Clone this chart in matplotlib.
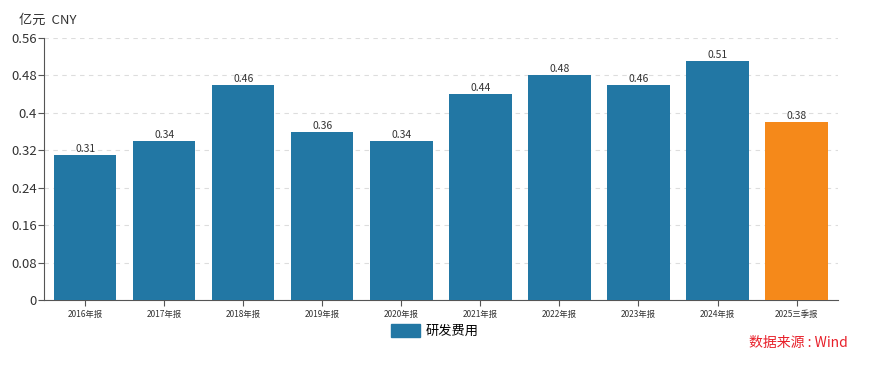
import matplotlib
matplotlib.use('Agg')
import matplotlib.pyplot as plt
from matplotlib.patches import Patch

plt.rcParams['font.family'] = ['Noto Sans CJK SC', 'DejaVu Sans']

categories = ['2016年报', '2017年报', '2018年报', '2019年报', '2020年报',
              '2021年报', '2022年报', '2023年报', '2024年报', '2025三季报']
values = [0.31, 0.34, 0.46, 0.36, 0.34, 0.44, 0.48, 0.46, 0.51, 0.38]
yticks = [0, 0.08, 0.16, 0.24, 0.32, 0.4, 0.48, 0.56]
ytick_labels = ['0', '0.08', '0.16', '0.24', '0.32', '0.4', '0.48', '0.56']

blue = '#2277a4'
orange = '#f5891a'
colors = [blue] * (len(values) - 1) + [orange]

fig = plt.figure(figsize=(8.69, 3.65), dpi=100)
ax = fig.add_axes([0.0506, 0.178, 0.9134, 0.718])

x = range(len(categories))
bars = ax.bar(x, values, width=0.79, color=colors, zorder=3)
for i, v in enumerate(values):
    ax.text(i, v + 0.002, f'{v:.2f}', ha='center', va='bottom', fontsize=7.5, color='#333333', zorder=4)

ax.set_xlim(-0.52, len(categories) - 0.48)
ax.set_ylim(0, 0.56)
ax.set_yticks(yticks)
ax.set_yticklabels(ytick_labels, fontsize=9.5, color='#333333')
ax.set_xticks(list(x))
ax.set_xticklabels(categories, fontsize=6, color='#333333')
ax.tick_params(axis='both', direction='out', length=4, color='#555555', width=0.8)
ax.tick_params(axis='y', pad=1)

ax.grid(axis='y', linestyle=(0, (4, 4)), color='#dddddd', linewidth=0.8, zorder=0)
for s in ['top', 'right']:
    ax.spines[s].set_visible(False)
for s in ['left', 'bottom']:
    ax.spines[s].set_color('#555555')
    ax.spines[s].set_linewidth(0.8)

fig.text(0.022, 0.935, '亿元  CNY', fontsize=9.5, color='#333333')

handle = Patch(facecolor=blue, edgecolor=blue)
fig.legend([handle], ['研发费用'], loc='center', bbox_to_anchor=(0.5, 0.093),
           frameon=False, fontsize=9.5, handlelength=2.2, handleheight=1.1, handletextpad=0.4)

fig.text(0.975, 0.04, '数据来源 : Wind', fontsize=10, color='#e8202a', ha='right', va='bottom')

fig.savefig('out.png', dpi=100)
